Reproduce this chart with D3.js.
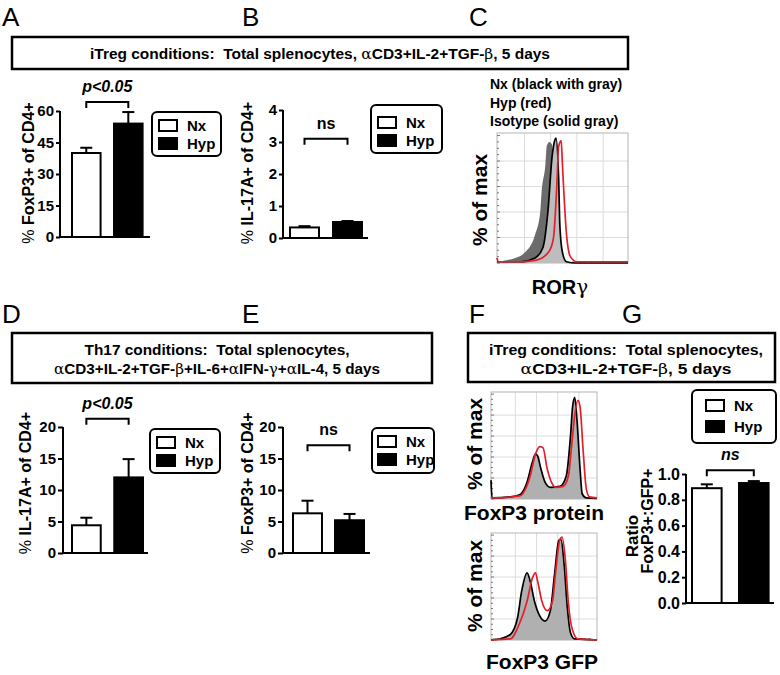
<!DOCTYPE html>
<html><head><meta charset="utf-8">
<script src="https://cdn.jsdelivr.net/npm/d3@7"></script>
<style>
body{margin:0;background:#fff;}
svg{display:block;font-family:"Liberation Sans",Arial,Helvetica,sans-serif;}
text{white-space:pre;}
</style></head><body>
<svg id="fig" width="780" height="675"></svg>
<script>
// ---------------- DATA ----------------
const groups = ["Nx", "Hyp"];
// A: % FoxP3+ of CD4+ (iTreg)
const aMeans = [40, 54];
const aErrs = [2.5, 5.5];
const aTicks = [0, 15, 30, 45, 60];
// B: % IL-17A+ of CD4+ (iTreg)
const bMeans = [0.33, 0.5];
const bErrs = [0.04, 0.03];
const bTicks = [0, 1, 2, 3, 4];
// D: % IL-17A+ of CD4+ (Th17)
const dMeans = [4.4, 12.0];
const dErrs = [1.2, 2.9];
const dTicks = [0, 5, 10, 15, 20];
// E: % FoxP3+ of CD4+ (Th17)
const eMeans = [6.3, 5.2];
const eErrs = [2.0, 1.0];
const eTicks = [0, 5, 10, 15, 20];
// G: Ratio FoxP3+:GFP+
const gMeans = [0.89, 0.93];
const gErrs = [0.03, 0.015];
const gTicks = [0, 0.2, 0.4, 0.6, 0.8, 1.0];

// Histograms: [channel (0-100), % of max]
const rorIsotype = [[0,1],[6,2],[14,4],[21,8],[29,22],[33,40],[34,55],[37,78],[38,92],[40,95],[42,93],[43,40],[44,5],[45,0],[100,0]];
const rorNx = [[0,1],[18,1],[29,4],[35,12],[39,42],[42,83],[44,96],[45,98],[47,68],[48,29],[50,8],[53,1],[60,0],[100,0]];
const rorHyp = [[0,4],[1,1],[18,1],[29,2],[39,8],[43,19],[46,68],[47,91],[49,96],[50,76],[53,23],[56,5],[61,1],[100,1]];
const foxProtNx = [[0,18],[1,1],[18,2],[27,4],[34,16],[39,35],[42,43],[44,41],[47,29],[51,16],[56,11],[65,12],[71,22],[75,60],[77,88],[79,97],[81,77],[84,29],[86,5],[90,1],[100,0.5]];
const foxProtHyp = [[0,2],[1,1],[27,3],[37,22],[42,43],[46,50],[49,49],[53,29],[57,16],[61,11],[68,12],[73,22],[76,50],[79,80],[82,94],[84,88],[87,45],[90,9],[93,2],[100,1]];
const foxGfpNx = [[0,0],[8,1],[18,5],[25,21],[29,47],[34,64],[37,56],[41,37],[46,23],[51,18],[56,28],[60,63],[64,95],[66,96],[69,72],[72,31],[75,7],[79,1],[100,0]];
const foxGfpHyp = [[0,0],[18,1],[27,16],[34,37],[39,59],[42,64],[44,56],[48,37],[53,28],[58,37],[61,65],[65,96],[67,98],[70,78],[73,35],[77,9],[82,1],[100,0]];
const histGrid = [20, 40, 60, 80];

// ---------------- DRAW ----------------
const svg = d3.select("#fig");
const BOLD = "bold";
const RED = "#e3202a";
const SERIF = "'DejaVu Serif','Liberation Serif',serif";

function panelLetter(t, x, y) {
  svg.append("text").attr("x", x).attr("y", y).attr("font-size", 26).text(t);
}

function banner(x0, y0, x1, y1, cx, lines, baselines, lengths) {
  svg.append("rect").attr("x", x0).attr("y", y0).attr("width", x1 - x0).attr("height", y1 - y0)
    .attr("fill", "none").attr("stroke", "#000").attr("stroke-width", 2.5);
  lines.forEach((parts, i) => {
    const t = svg.append("text").attr("x", cx).attr("y", baselines[i])
      .attr("text-anchor", "middle").attr("font-size", 14).attr("font-weight", BOLD)
      .attr("textLength", lengths[i]).attr("lengthAdjust", "spacingAndGlyphs");
    parts.forEach(p => {
      const s = t.append("tspan").text(p[0]);
      if (p[1]) s.attr("font-family", SERIF).attr("font-weight", "normal");
    });
  });
}

function rotLabel(x, y, parts, size) {
  const t = svg.append("text").attr("transform", `translate(${x},${y}) rotate(-90)`)
    .attr("text-anchor", "middle").attr("font-size", size);
  parts.forEach(p => t.append("tspan").attr("font-weight", p[1] ? BOLD : "normal").text(p[0]));
  return t;
}

function legend(x, y, w, h, sw) {
  svg.append("rect").attr("x", x).attr("y", y).attr("width", w).attr("height", h).attr("rx", 5)
    .attr("fill", "#fff").attr("stroke", "#000").attr("stroke-width", 2);
  groups.forEach((k, i) => {
    const yy = y + sw.dy + i * sw.step;
    svg.append("rect").attr("x", x + sw.dx).attr("y", yy).attr("width", 18).attr("height", 11)
      .attr("fill", i === 0 ? "#fff" : "#000").attr("stroke", "#000").attr("stroke-width", 2);
    svg.append("text").attr("x", x + sw.dx + 28).attr("y", yy + 11).attr("font-size", 15)
      .attr("font-weight", BOLD).text(k);
  });
}

function barPanel(o) {
  const y = d3.scaleLinear().domain([0, o.max]).range([o.y0, o.y1]);
  const x = d3.scaleBand().domain(groups).range(o.band).paddingInner(o.pad).paddingOuter(0);
  const g = svg.append("g");
  // error bars
  groups.forEach((k, i) => {
    const cx = x(k) + x.bandwidth() / 2;
    g.append("line").attr("x1", cx).attr("x2", cx).attr("y1", y(o.means[i])).attr("y2", y(o.means[i] + o.errs[i]))
      .attr("stroke", "#000").attr("stroke-width", 2);
    g.append("line").attr("x1", cx - 6).attr("x2", cx + 6).attr("y1", y(o.means[i] + o.errs[i])).attr("y2", y(o.means[i] + o.errs[i]))
      .attr("stroke", "#000").attr("stroke-width", 2);
  });
  // bars
  g.selectAll("rect.bar").data(groups).enter().append("rect")
    .attr("x", k => x(k)).attr("width", x.bandwidth())
    .attr("y", (k, i) => y(o.means[i])).attr("height", (k, i) => y(0) - y(o.means[i]))
    .attr("fill", (k, i) => i === 0 ? "#fff" : "#000").attr("stroke", "#000").attr("stroke-width", 2);
  // y axis
  const ax = g.append("g").attr("transform", `translate(${o.ax},0)`)
    .call(d3.axisLeft(y).tickValues(o.ticks).tickSize(o.tickSize).tickSizeOuter(0).tickPadding(2).tickFormat(o.fmt));
  ax.select(".domain").attr("stroke-width", 2).attr("d", `M0,${y(o.max)}V${y(0)}`);
  ax.selectAll(".tick line").attr("stroke-width", 2);
  ax.selectAll(".tick text").attr("font-size", o.tickFont).attr("font-weight", BOLD)
    .attr("font-family", "'Liberation Sans',Arial,sans-serif").attr("fill", "#000");
  // x axis
  g.append("line").attr("x1", o.ax - 1).attr("x2", o.axEnd).attr("y1", y(0)).attr("y2", y(0))
    .attr("stroke", "#000").attr("stroke-width", 2);
  // bracket
  const c1 = x(groups[0]) + x.bandwidth() / 2, c2 = x(groups[1]) + x.bandwidth() / 2;
  const by = y(o.bracket);
  g.append("path").attr("d", `M${c1},${by + 6}V${by}H${c2}V${by + 6}`)
    .attr("fill", "none").attr("stroke", "#000").attr("stroke-width", 2);
  g.append("text").attr("x", (c1 + c2) / 2).attr("y", by - 10).attr("text-anchor", "middle")
    .attr("font-size", 16).attr("font-weight", BOLD).attr("font-style", o.italic ? "italic" : "normal").text(o.sig);
}

function histPanel(o) {
  const x = d3.scaleLinear().domain([0, 100]).range([o.x0, o.x1]);
  const y = d3.scaleLinear().domain([0, 102]).range([o.yb, o.yt]);
  const g = svg.append("g");
  // grid
  histGrid.forEach(v => {
    g.append("line").attr("x1", x(v + o.gridShift)).attr("x2", x(v + o.gridShift)).attr("y1", o.yt).attr("y2", o.yb)
      .attr("stroke", "#dcdcdc").attr("stroke-width", 1);
    g.append("line").attr("x1", o.x0).attr("x2", o.x1).attr("y1", y(v)).attr("y2", y(v))
      .attr("stroke", "#dcdcdc").attr("stroke-width", 1);
  });
  g.append("rect").attr("x", o.x0).attr("y", o.yt).attr("width", o.x1 - o.x0).attr("height", o.yb - o.yt)
    .attr("fill", "none").attr("stroke", "#b5b5b5").attr("stroke-width", 1);
  // minor ticks
  d3.range(0, 101, 5).forEach(v => {
    g.append("line").attr("x1", o.x0).attr("x2", o.x0 + (v % 20 === 0 ? 3 : 2)).attr("y1", y(v)).attr("y2", y(v))
      .attr("stroke", "#777").attr("stroke-width", 1);
  });
  [2, 4, 6, 9, 14, 18, 21, 25, 30, 36, 41, 44, 48, 53, 58, 64, 67, 72, 78, 85, 88, 93].forEach(v => {
    g.append("line").attr("x1", x(v)).attr("x2", x(v)).attr("y1", o.yb).attr("y2", o.yb - 2)
      .attr("stroke", "#777").attr("stroke-width", 1);
  });
  const area = d3.area().x(d => x(d[0])).y0(y(0)).y1(d => y(d[1])).curve(d3.curveMonotoneX);
  const line = d3.line().x(d => x(d[0])).y(d => y(d[1])).curve(d3.curveMonotoneX);
  o.fills.forEach(f => g.append("path").datum(f.data).attr("d", area).attr("fill", f.color));
  o.lines.forEach(l => g.append("path").datum(l.data).attr("d", line).attr("fill", "none")
    .attr("stroke", l.color).attr("stroke-width", 1.7).attr("stroke-linejoin", "round"));
}

// ----- Letters -----
panelLetter("A", 2, 26); panelLetter("B", 242, 26); panelLetter("C", 469, 26);
panelLetter("D", 2, 323); panelLetter("E", 242, 323); panelLetter("F", 469, 323); panelLetter("G", 622, 323);

// ----- Banners -----
banner(12, 37, 628, 69, 320, [[["iTreg conditions:  Total splenocytes, "], ["α", 1], ["CD3+IL-2+TGF-"], ["β", 1], [", 5 days"]]], [59], [460]);
banner(12, 333, 432, 383, 217, [[["Th17 conditions:  Total splenocytes,"]],
  [["α", 1], ["CD3+IL-2+TGF-"], ["β", 1], ["+IL-6+"], ["α", 1], ["IFN-"], ["γ", 1], ["+"], ["α", 1], ["IL-4, 5 days"]]], [355, 374], [265, 326]);
banner(468, 333, 775, 382, 626, [[["iTreg conditions:  Total splenocytes,"]],
  [["α", 1], ["CD3+IL-2+TGF-"], ["β", 1], [", 5 days"]]], [355, 374], [274, 211]);

// ----- Bar panels -----
barPanel({ax: 60, axEnd: 150, y0: 237, y1: 111, max: 60, ticks: aTicks, fmt: d3.format("d"), tickSize: 4, tickFont: 15,
  band: [72, 142.6], pad: 0.32, means: aMeans, errs: aErrs, bracket: 64.3, sig: "p<0.05", italic: true});
barPanel({ax: 283, axEnd: 368, y0: 238, y1: 110, max: 4, ticks: bTicks, fmt: d3.format("d"), tickSize: 4, tickFont: 15,
  band: [290, 362], pad: 0.326, means: bMeans, errs: bErrs, bracket: 3.1, sig: "ns", italic: false});
barPanel({ax: 63, axEnd: 148, y0: 553, y1: 427, max: 20, ticks: dTicks, fmt: d3.format("d"), tickSize: 5, tickFont: 15,
  band: [72, 143], pad: 0.32, means: dMeans, errs: dErrs, bracket: 21.3, sig: "p<0.05", italic: true});
barPanel({ax: 283, axEnd: 370, y0: 553, y1: 427, max: 20, ticks: eTicks, fmt: d3.format("d"), tickSize: 5, tickFont: 15,
  band: [293, 364], pad: 0.31, means: eMeans, errs: eErrs, bracket: 17.1, sig: "ns", italic: false});
barPanel({ax: 686, axEnd: 774, y0: 603, y1: 474, max: 1, ticks: gTicks, fmt: d3.format(".1f"), tickSize: 4, tickFont: 16,
  band: [692, 768.6], pad: 0.37, means: gMeans, errs: gErrs, bracket: 1.03, sig: "ns", italic: true});

// ----- Legends -----
legend(152, 112, 69, 44, {dx: 7, dy: 8, step: 18});
legend(371, 105, 71, 48, {dx: 7, dy: 12, step: 18});
legend(150, 429, 70, 44, {dx: 7, dy: 8, step: 18});
legend(372, 428, 62, 45, {dx: 6, dy: 8, step: 18});
legend(692, 390, 84, 53, {dx: 14, dy: 10, step: 21});

// ----- Bar y labels -----
rotLabel(34, 173, [["% ", 0], ["FoxP3+ of CD4+", 1]], 16);
rotLabel(253, 173, [["% ", 0], ["IL-17A+ of CD4+", 1]], 16);
rotLabel(31, 483, [["% ", 0], ["IL-17A+ of CD4+", 1]], 16);
rotLabel(253, 483, [["% ", 0], ["FoxP3+ of CD4+", 1]], 16);
rotLabel(638, 536, [["Ratio", 1]], 17);
rotLabel(653, 521, [["FoxP3+:GFP+", 1]], 16);

// ----- Histograms -----
histPanel({x0: 497, x1: 628, yt: 133, yb: 263, gridShift: 1,
  fills: [{data: rorIsotype, color: "#6b6b6b"}, {data: rorNx, color: "#bdbdbd"}],
  lines: [{data: rorNx, color: "#000"}, {data: rorHyp, color: RED}]});
histPanel({x0: 491, x1: 597, yt: 392, yb: 499, gridShift: 3,
  fills: [{data: foxProtNx, color: "#b0b0b0"}],
  lines: [{data: foxProtNx, color: "#000"}, {data: foxProtHyp, color: RED}]});
histPanel({x0: 491, x1: 597, yt: 533, yb: 640, gridShift: 3,
  fills: [{data: foxGfpNx, color: "#b0b0b0"}],
  lines: [{data: foxGfpNx, color: "#000"}, {data: foxGfpHyp, color: RED}]});

// C header
["Nx (black with gray)", "Hyp (red)", "Isotype (solid gray)"].forEach((t, i) =>
  svg.append("text").attr("x", 490).attr("y", 89 + i * 18.5).attr("font-size", 14).attr("font-weight", BOLD).text(t));

// histogram labels
rotLabel(487, 200, [["% of max", 1]], 21);
rotLabel(482, 444, [["% of max", 1]], 21);
rotLabel(482, 586, [["% of max", 1]], 21);
const ror = svg.append("text").attr("x", 560).attr("y", 294).attr("text-anchor", "middle").attr("font-size", 20).attr("font-weight", BOLD);
ror.append("tspan").text("ROR");
ror.append("tspan").attr("font-family", SERIF).attr("font-weight", "normal").text("γ");
svg.append("text").attr("x", 534).attr("y", 520).attr("text-anchor", "middle").attr("font-size", 21).attr("font-weight", BOLD).text("FoxP3 protein");
svg.append("text").attr("x", 542).attr("y", 669).attr("text-anchor", "middle").attr("font-size", 21).attr("font-weight", BOLD).text("FoxP3 GFP");
</script>
</body></html>
